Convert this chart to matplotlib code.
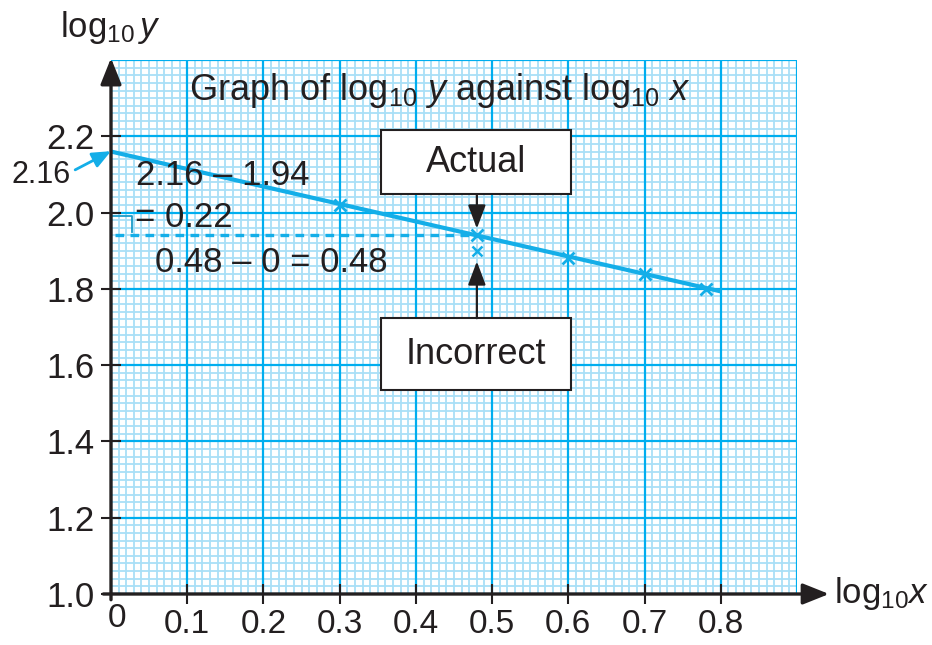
import numpy as np
import matplotlib.pyplot as plt
from matplotlib.patches import Rectangle

plt.rcParams['font.family'] = ['Liberation Sans', 'DejaVu Sans']
plt.rcParams['mathtext.fontset'] = 'custom'
plt.rcParams['mathtext.rm'] = 'Liberation Sans'
plt.rcParams['mathtext.it'] = 'Liberation Sans:italic'

# data
log_x = [0.3, 0.48, 0.6, 0.7, 0.78]
log_y = [2.02, 1.94, 1.88, 1.84, 1.80]
wrong_x = [0.48]
wrong_y = [1.90]
fit_x = [0, 0.8]
intercept = 2.16
y_at_048 = 1.94
gradient = -(intercept - y_at_048) / 0.48

x_ticks = [0.1, 0.2, 0.3, 0.4, 0.5, 0.6, 0.7, 0.8]
y_ticks = [1.0, 1.2, 1.4, 1.6, 1.8, 2.0, 2.2]

CYAN = '#14aee8'
MAJOR = '#00aeef'
MINOR = '#a9dff7'
INK = '#231f20'
FS = 25

fig = plt.figure(figsize=(9.32, 6.45), dpi=100)
ax = fig.add_axes([111/932, 51/645, 686/932, 534/645])
ax.set_xlim(0, 0.9)
ax.set_ylim(1.0, 2.4)
for s in ax.spines.values():
    s.set_visible(False)

# graph paper
for i in range(91):
    xv = i * 0.01
    major = i % 10 == 0
    ax.axvline(xv, color=MAJOR if major else MINOR, lw=1.6 if major else 1.3,
               zorder=1 if major else 0)
for i in range(71):
    yv = 1.0 + i * 0.02
    major = i % 10 == 0
    ax.axhline(yv, color=MAJOR if major else MINOR, lw=1.6 if major else 1.3,
               zorder=1 if major else 0)

# axes with arrows
arr = dict(arrowstyle='-|>,head_length=0.8,head_width=0.32', mutation_scale=20,
           lw=2.4, color=INK, shrinkA=0, shrinkB=0)
ax.annotate('', xy=(0, 2.405), xytext=(0, 0.985), arrowprops=arr,
            annotation_clip=False, zorder=5)
ax.annotate('', xy=(0.942, 1.0), xytext=(-0.01, 1.0), arrowprops=arr,
            annotation_clip=False, zorder=5)

ax.set_xticks(x_ticks)
ax.set_xticklabels([f'{v:.1f}' for v in x_ticks])
ax.set_yticks(y_ticks)
ax.set_yticklabels([f'{v:.1f}' for v in y_ticks])
ax.tick_params(direction='inout', length=14, width=1.5, color=INK,
               labelsize=FS, labelcolor=INK)
ax.tick_params(axis='x', pad=4, labelsize=24)
ax.tick_params(axis='y', pad=5)
ax.text(0.008, 0.935, '0', fontsize=24, color=INK, ha='center', va='center')

# best fit line and points
fit_y = [intercept + gradient * v for v in fit_x]
ax.plot(fit_x, fit_y, color=CYAN, lw=3, zorder=3, solid_capstyle='butt')
ax.plot(log_x, log_y, ls='none', marker='x', ms=9, mew=2, color=CYAN, zorder=4)
ax.plot(wrong_x, wrong_y, ls='none', marker='x', ms=7, mew=1.8, color=CYAN, zorder=4)
ax.plot([0.005, 0.47], [y_at_048, y_at_048], color=CYAN, lw=2.4,
        ls=(0, (2.6, 1.9)), zorder=3)
ax.plot([0.0, 0.027, 0.027], [1.992, 1.992, 1.948], color='#1a9cc9', lw=1.3, zorder=3)

# annotations
ax.text(0.432, 2.295, r'Graph of log$_{10}$ $y$ against log$_{10}$ $x$',
        fontsize=26, color=INK, ha='center', va='baseline', zorder=6)
ax.text(0.146, 2.098, '2.16 \u2013 1.94', fontsize=FS, color=INK,
        ha='center', va='center', zorder=6)
ax.text(0.031, 1.988, '= 0.22', fontsize=FS, color=INK,
        ha='left', va='center', zorder=6)
ax.text(0.21, 1.870, '0.48 \u2013 0 = 0.48', fontsize=FS, color=INK,
        ha='center', va='center', zorder=6)

ax.text(-0.092, 2.098, '2.16', fontsize=22, color=INK, ha='center', va='center',
        clip_on=False)
ax.annotate('', xy=(0, 2.161), xytext=(-0.047, 2.112),
            arrowprops=dict(arrowstyle='-|>,head_length=0.7,head_width=0.3',
                            mutation_scale=16, lw=2, color=CYAN,
                            shrinkA=0, shrinkB=0),
            annotation_clip=False, zorder=6)

for y0, y1, label, tip in [(2.048, 2.216, 'Actual', 1.958),
                           (1.535, 1.723, 'Incorrect', 1.872)]:
    ax.add_patch(Rectangle((0.354, y0), 0.25, y1 - y0, facecolor='white',
                           edgecolor=INK, lw=1.5, zorder=7))
    ax.text(0.479, (y0 + y1) / 2, label, fontsize=26, color=INK,
            ha='center', va='center', zorder=8)
    start = y0 if tip < y0 else y1
    ax.annotate('', xy=(0.48, tip), xytext=(0.48, start),
                arrowprops=dict(arrowstyle='-|>,head_length=0.8,head_width=0.3',
                                mutation_scale=18, lw=1.6, color=INK,
                                shrinkA=0, shrinkB=0),
                zorder=8)

fig.text(60/932, (645-37)/645, r'log$_{10}$$\,y$', fontsize=25, color=INK,
         ha='left', va='baseline')
fig.text(834/932, (645-603)/645, r'log$_{10}$$x$', fontsize=25, color=INK,
         ha='left', va='baseline')

fig.savefig('out.png', dpi=100, facecolor='white')
